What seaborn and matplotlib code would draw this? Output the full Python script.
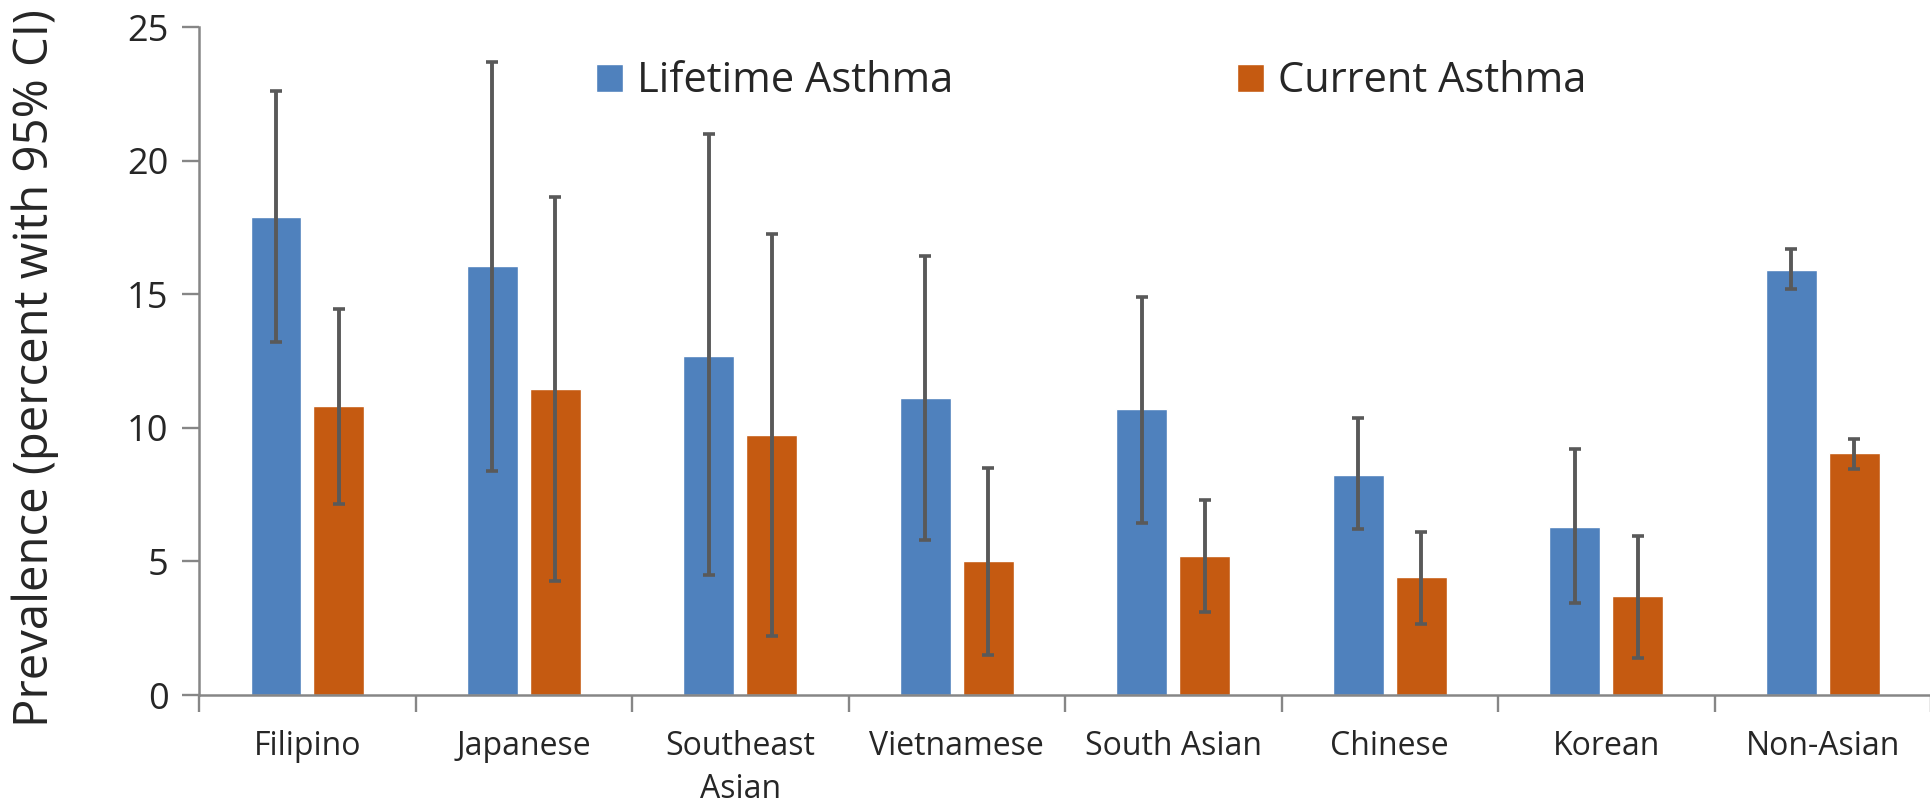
import numpy as np
import pandas as pd
import matplotlib
matplotlib.use("Agg")
import matplotlib.pyplot as plt
import seaborn as sns

# ---- data ----
categories = ["Filipino", "Japanese", "Southeast\nAsian", "Vietnamese",
              "South Asian", "Chinese", "Korean", "Non-Asian"]
series_names = ["Lifetime Asthma", "Current Asthma"]
lifetime = [17.9, 16.05, 12.7, 11.1, 10.7, 8.25, 6.3, 15.9]
lifetime_lo = [13.2, 8.4, 4.5, 5.8, 6.45, 6.2, 3.45, 15.2]
lifetime_hi = [22.6, 23.7, 21.0, 16.45, 14.9, 10.35, 9.2, 16.7]
current = [10.8, 11.45, 9.75, 5.0, 5.2, 4.4, 3.7, 9.05]
current_lo = [7.15, 4.25, 2.2, 1.5, 3.1, 2.65, 1.4, 8.45]
current_hi = [14.45, 18.65, 17.25, 8.5, 7.3, 6.1, 5.97, 9.6]
y_ticks = [0, 5, 10, 15, 20, 25]
y_label = "Prevalence (percent with 95% CI)"

colors = ["#4F81BD", "#C55A11"]
axis_gray = "#868686"
err_gray = "#595959"

sns.set_style("white")
plt.rcParams["font.family"] = ["Open Sans", "DejaVu Sans"]

df = pd.DataFrame({
    "group": categories * 2,
    "series": [series_names[0]] * len(categories) + [series_names[1]] * len(categories),
    "value": lifetime + current,
})

fig = plt.figure(figsize=(19.31, 8.05), dpi=100)
ax = fig.add_axes([0.1031, 0.1366, 0.8969, 0.8298])

sns.barplot(data=df, x="group", y="value", hue="series", hue_order=series_names,
            palette=colors, saturation=1, width=0.58, gap=0.19,
            errorbar=None, ax=ax)

# error bars at bar centres
for cont, vals, lo, hi in zip(ax.containers[:2], [lifetime, current],
                              [lifetime_lo, current_lo], [lifetime_hi, current_hi]):
    xs = [b.get_x() + b.get_width() / 2 for b in cont]
    v = np.array(vals); l = np.array(lo); h = np.array(hi)
    ax.errorbar(xs, v, yerr=[v - l, h - v], fmt="none", ecolor=err_gray,
                elinewidth=2.8, capsize=4.4, capthick=2.6, zorder=5)

ax.set_xlim(-0.5, len(categories) - 0.5)
ax.set_ylim(0, 25)
ax.set_yticks(y_ticks)
ax.set_yticklabels([str(t) for t in y_ticks], fontsize=26)
ax.set_xticks(range(len(categories)))
ax.set_xticklabels(categories, fontsize=23, linespacing=1.4)
ax.set_xticks(np.arange(-0.5, len(categories), 1), minor=True)
ax.tick_params(axis="x", which="major", bottom=True, length=0, pad=25)
ax.tick_params(axis="x", which="minor", bottom=True, length=12, width=1.7,
               color=axis_gray, direction="out")
ax.tick_params(axis="y", which="major", left=True, length=12, width=1.7,
               color=axis_gray, direction="out", pad=10)
ax.set_xlabel("")
ax.set_ylabel(y_label, fontsize=34)
ax.yaxis.set_label_coords(-0.081, 0.49)

for s in ["top", "right"]:
    ax.spines[s].set_visible(False)
for s in ["left", "bottom"]:
    ax.spines[s].set_color(axis_gray)
    ax.spines[s].set_linewidth(1.8)

handles, labels = ax.get_legend_handles_labels()
ax.legend(handles, labels, loc="upper left", bbox_to_anchor=(0.229, 0.95),
          ncol=2, frameon=False, handlelength=0.65, handleheight=0.65,
          handletextpad=0.34, columnspacing=6.8, borderaxespad=0, borderpad=0,
          prop={"family": "Open Sans", "size": 30})

fig.savefig("out.png", dpi=100)
